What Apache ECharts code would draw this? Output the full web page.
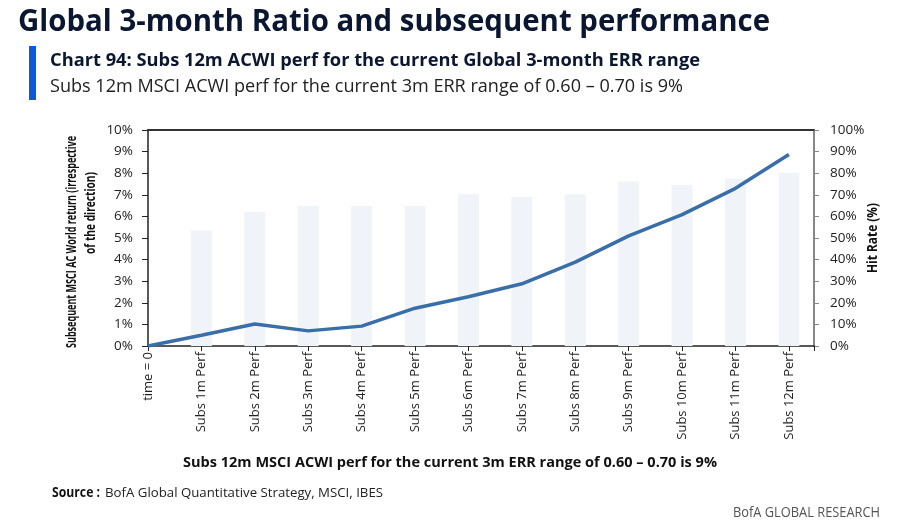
<!DOCTYPE html>
<html><head><meta charset="utf-8">
<script src="https://cdn.jsdelivr.net/npm/echarts@6/dist/echarts.min.js"></script>
<style>html,body{margin:0;padding:0;background:#fff}#c{width:910px;height:530px}</style>
</head><body><div id="c"></div>
<script>
const categories = ['time = 0','Subs 1m Perf','Subs 2m Perf','Subs 3m Perf','Subs 4m Perf','Subs 5m Perf','Subs 6m Perf','Subs 7m Perf','Subs 8m Perf','Subs 9m Perf','Subs 10m Perf','Subs 11m Perf','Subs 12m Perf'];
const subsReturn = [0, 0.5, 1.02, 0.7, 0.92, 1.75, 2.28, 2.88, 3.88, 5.1, 6.08, 7.3, 8.87];
const hitRate = [null, 53.5, 62.2, 64.8, 64.8, 64.8, 70.2, 69.1, 70.2, 76.1, 74.5, 77.6, 80.2];
const leftTicks = {min: 0, max: 10, interval: 1};
const rightTicks = {min: 0, max: 100, interval: 10};

const FT = '"Open Sans", sans-serif';
const cv = document.createElement('canvas').getContext('2d');
function fit(text, font, w) { cv.font = font; return w / cv.measureText(text).width; }
function txt(text, font, x, y, w, opt) {
  opt = opt || {};
  return {type: 'text', x: x, y: y, rotation: opt.rot || 0, scaleX: fit(text, font, w),
    style: {text: text, font: font, fill: opt.fill || '#111', align: opt.align || 'left', verticalAlign: 'middle'}};
}
const T1 = 'Global 3-month Ratio and subsequent performance';
const T2 = 'Chart 94: Subs 12m ACWI perf for the current Global 3-month ERR range';
const T3 = 'Subs 12m MSCI ACWI perf for the current 3m ERR range of 0.60 – 0.70 is 9%';
const YL1 = 'Subsequent MSCI AC World return (irrespective';
const YL2 = 'of the direction)';
const YR = 'Hit Rate (%)';
const SRC1 = 'Source :', SRC2 = 'BofA Global Quantitative Strategy, MSCI, IBES';

const chart = echarts.init(document.getElementById('c'));
chart.setOption({
  animation: false,
  grid: {left: 148, right: 96, top: 130, bottom: 184, containLabel: false},
  graphic: [
    txt(T1, 'bold 30px ' + FT, 18, 22, 752, {fill: '#0b1730'}),
    {type: 'rect', shape: {x: 29, y: 46, width: 7, height: 54}, style: {fill: '#0a5bd6'}},
    txt(T2, 'bold 18px ' + FT, 50, 61, 650, {fill: '#0b1730'}),
    txt(T3, '18px ' + FT, 50, 87, 633, {fill: '#222'}),
    txt(T3, 'bold 14px ' + FT, 450, 463, 534, {align: 'center'}),
    txt(SRC1, 'bold 13.5px ' + FT, 52, 493, 48),
    txt(SRC2, '13.5px ' + FT, 105, 493, 278, {fill: '#222'}),
    txt('BofA GLOBAL RESEARCH', '14px ' + FT, 880, 513, 147, {align: 'right', fill: '#555'}),
    txt(YL1, 'bold 14px ' + FT, 72, 242, 212, {rot: Math.PI / 2, align: 'center'}),
    txt(YL2, 'bold 14px ' + FT, 91, 213, 82, {rot: Math.PI / 2, align: 'center'}),
    txt(YR, 'bold 13.5px ' + FT, 873, 238, 70, {rot: Math.PI / 2, align: 'center'})
  ],
  xAxis: [{
    type: 'value', min: 0, max: 12.47, interval: 1,
    axisLine: {show: true, onZero: false, lineStyle: {color: '#222', width: 1.5}},
    axisTick: {show: true, length: 5, lineStyle: {color: '#222'}},
    splitLine: {show: false},
    axisLabel: {rotate: 90, color: '#222', fontSize: 13, fontFamily: FT, margin: 6,
      formatter: v => (Number.isInteger(v) && categories[v] !== undefined) ? categories[v] : ''}
  }, {
    type: 'value', position: 'top', min: 0, max: 12.47,
    axisLine: {show: true, onZero: false, lineStyle: {color: '#333', width: 2}},
    axisTick: {show: false}, axisLabel: {show: false}, splitLine: {show: false}
  }],
  yAxis: [{
    type: 'value', ...leftTicks,
    axisLine: {show: true, onZero: false, lineStyle: {color: '#222', width: 1.5}},
    axisTick: {show: true, length: 6, lineStyle: {color: '#222'}},
    splitLine: {show: false},
    axisLabel: {formatter: '{value}%', color: '#222', fontSize: 13.5, fontFamily: FT, margin: 15}
  }, {
    type: 'value', position: 'right', ...rightTicks,
    axisLine: {show: true, onZero: false, lineStyle: {color: '#888', width: 2}},
    axisTick: {show: true, length: 5, lineStyle: {color: '#888'}},
    splitLine: {show: false},
    axisLabel: {formatter: '{value}%', color: '#222', fontSize: 13.5, fontFamily: FT, margin: 16}
  }],
  series: [{
    type: 'bar', yAxisIndex: 1, barWidth: 21,
    itemStyle: {color: '#f0f4f8'},
    data: hitRate.map((v, i) => [i, v])
  }, {
    type: 'line', yAxisIndex: 0, symbol: 'none',
    lineStyle: {color: '#3a6ea8', width: 3.5},
    data: subsReturn.map((v, i) => [i, v])
  }]
});
</script></body></html>
